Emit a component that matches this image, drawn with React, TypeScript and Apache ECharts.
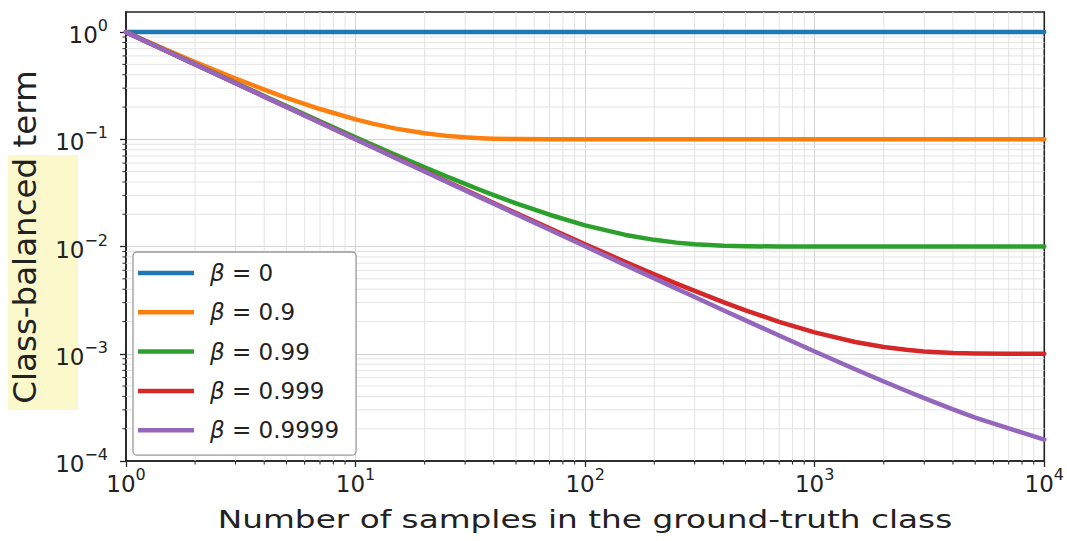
import React, { useEffect, useRef } from 'react';
import * as echarts from 'echarts';

// Number of samples (x, log scale)
const nSamples = [1, 1.5, 2, 3, 4, 5, 7, 10, 12, 15, 20, 25, 30, 35, 40, 50, 70, 100, 150, 200, 250, 300, 400, 500, 700, 1000, 1500, 2000, 2500, 3000, 4000, 5000, 7000, 10000];

// Class-balanced term
const beta0 = [1, 1, 1, 1, 1, 1, 1, 1, 1, 1, 1, 1, 1, 1, 1, 1, 1, 1, 1, 1, 1, 1, 1, 1, 1, 1, 1, 1, 1, 1, 1, 1, 1, 1];
const beta09 = [1, 0.684, 0.526, 0.369, 0.2908, 0.244, 0.1917, 0.1535, 0.1394, 0.1259, 0.1138, 0.1077, 0.1044, 0.1026, 0.1015, 0.1005, 0.1001, 0.1, 0.1, 0.1, 0.1, 0.1, 0.1, 0.1, 0.1, 0.1, 0.1, 0.1, 0.1, 0.1, 0.1, 0.1, 0.1, 0.1];
const beta099 = [1, 0.6684, 0.5025, 0.3367, 0.2538, 0.204, 0.1472, 0.1046, 0.08802, 0.07146, 0.05492, 0.04501, 0.03842, 0.0337, 0.03012, 0.02532, 0.0198, 0.01577, 0.01284, 0.01155, 0.01088, 0.01052, 0.01018, 0.01007, 0.01001, 0.01, 0.01, 0.01, 0.01, 0.01, 0.01, 0.01, 0.01, 0.01];
const beta0999 = [1, 0.6668, 0.5003, 0.3337, 0.2504, 0.2004, 0.1433, 0.1005, 0.0838, 0.06714, 0.05048, 0.04048, 0.03382, 0.02906, 0.02549, 0.02049, 0.01478, 0.0105, 0.007176, 0.005512, 0.004518, 0.003858, 0.003032, 0.002541, 0.001986, 0.001582, 0.001287, 0.001156, 0.001089, 0.001052, 0.001019, 0.001007, 0.001001, 0.001];
const beta09999 = [1, 0.6667, 0.5, 0.3334, 0.25, 0.2, 0.1429, 0.1, 0.08338, 0.06671, 0.05005, 0.04005, 0.03335, 0.02862, 0.02505, 0.02005, 0.01432, 0.01005, 0.006716, 0.00505, 0.00405, 0.003383, 0.00255, 0.00205, 0.001479, 0.001051, 0.0007179, 0.0005508, 0.0004522, 0.0003859, 0.0003033, 0.0002541, 0.0002014, 0.0001582];

const seriesNames = ['β = 0', 'β = 0.9', 'β = 0.99', 'β = 0.999', 'β = 0.9999'];
const seriesValues = [beta0, beta09, beta099, beta0999, beta09999];
const seriesColors = ['#1f77b4', '#ff7f0e', '#2ca02c', '#d62728', '#9467bd'];

// Tick values
const xMajorTicks = [1, 10, 100, 1000, 10000];
const yMajorTicks = [0.0001, 0.001, 0.01, 0.1, 1];
const xMinorTicks = [2, 3, 4, 5, 6, 7, 8, 9, 20, 30, 40, 50, 60, 70, 80, 90, 200, 300, 400, 500, 600, 700, 800, 900, 2000, 3000, 4000, 5000, 6000, 7000, 8000, 9000];
const yMinorTicks = [0.0002, 0.0003, 0.0004, 0.0005, 0.0006, 0.0007, 0.0008, 0.0009, 0.002, 0.003, 0.004, 0.005, 0.006, 0.007, 0.008, 0.009, 0.02, 0.03, 0.04, 0.05, 0.06, 0.07, 0.08, 0.09, 0.2, 0.3, 0.4, 0.5, 0.6, 0.7, 0.8, 0.9];

const xTitle = 'Number of samples in the ground-truth class';
const yTitle = 'Class-balanced term';

const FONT = '"DejaVu Sans", sans-serif';
const DARK = '#222222';
const GRID_MAJOR = '#d4d4d4';
const GRID_MINOR = '#e3e3e3';

function powLabel(v: number): string {
  const l = Math.log10(v);
  const e = Math.round(l);
  if (Math.abs(l - e) > 1e-6) return '';
  const exp = e < 0 ? '\u2212' + -e : String(e);
  return '{b|10}{s|' + exp + '}';
}

const labelRich = {
  b: { fontSize: 23, fontFamily: FONT, color: DARK, lineHeight: 29, verticalAlign: 'bottom' },
  s: { fontSize: 16, fontFamily: FONT, color: DARK, lineHeight: 16, verticalAlign: 'top' },
};

export default function App() {
  const ref = useRef<HTMLDivElement>(null);

  useEffect(() => {
    if (!ref.current) return;
    const chart = echarts.init(ref.current, null, { renderer: 'svg' });

    const lineSeries = seriesNames.map((name, i) => ({
      name,
      type: 'line',
      data: nSamples.map((n, j) => [n, seriesValues[i][j]]),
      showSymbol: false,
      symbol: 'none',
      smooth: false,
      color: seriesColors[i],
      lineStyle: { width: 4.5, color: seriesColors[i], join: 'round', cap: 'round' },
      z: 3,
      silent: true,
    }));

    const xMinorSeries = {
      type: 'custom',
      name: 'xMinor',
      silent: true,
      z: 1,
      clip: false,
      data: xMinorTicks.map((v) => [v, 1]),
      renderItem: (params: any, api: any) => {
        const cs = params.coordSys;
        const px = api.coord([api.value(0), 1])[0];
        return {
          type: 'group',
          children: [
            { type: 'line', shape: { x1: px, y1: cs.y, x2: px, y2: cs.y + cs.height }, style: { stroke: GRID_MINOR, lineWidth: 1 } },
            { type: 'line', shape: { x1: px, y1: cs.y + cs.height, x2: px, y2: cs.y + cs.height + 3.5 }, style: { stroke: DARK, lineWidth: 1 } },
          ],
        };
      },
    };

    const yMinorSeries = {
      type: 'custom',
      name: 'yMinor',
      silent: true,
      z: 1,
      clip: false,
      data: yMinorTicks.map((v) => [1, v]),
      renderItem: (params: any, api: any) => {
        const cs = params.coordSys;
        const py = api.coord([1, api.value(1)])[1];
        return {
          type: 'group',
          children: [
            { type: 'line', shape: { x1: cs.x, y1: py, x2: cs.x + cs.width, y2: py }, style: { stroke: GRID_MINOR, lineWidth: 1 } },
            { type: 'line', shape: { x1: cs.x - 3.5, y1: py, x2: cs.x, y2: py }, style: { stroke: DARK, lineWidth: 1 } },
          ],
        };
      },
    };

    chart.setOption({
      animation: false,
      backgroundColor: '#ffffff',
      grid: {
        left: 126,
        right: 22,
        top: 12,
        bottom: 80,
        show: true,
        borderColor: DARK,
        borderWidth: 1.6,
        backgroundColor: 'transparent',
      },
      xAxis: {
        type: 'log',
        logBase: 10,
        min: 1,
        max: 10000,
        axisLine: { show: true, lineStyle: { color: DARK, width: 1.6 } },
        axisTick: { show: true, length: 6, lineStyle: { color: DARK, width: 1.3 }, customValues: xMajorTicks },
        axisLabel: { margin: 5, formatter: powLabel, rich: labelRich, customValues: xMajorTicks },
        splitLine: { show: true, showMinLine: false, showMaxLine: false, lineStyle: { color: GRID_MAJOR, width: 1 } },
      },
      yAxis: {
        type: 'log',
        logBase: 10,
        min: 0.0001,
        max: 1.54,
        axisLine: { show: true, lineStyle: { color: DARK, width: 1.6 } },
        axisTick: { show: true, length: 6, lineStyle: { color: DARK, width: 1.3 }, customValues: yMajorTicks },
        axisLabel: { margin: 18, formatter: powLabel, rich: labelRich, customValues: yMajorTicks },
        splitLine: { show: true, showMinLine: false, showMaxLine: false, lineStyle: { color: GRID_MAJOR, width: 1 } },
      },
      legend: {
        data: seriesNames,
        orient: 'vertical',
        left: 133,
        top: 252,
        padding: [9, 17, 13, 5],
        itemGap: 15.3,
        itemWidth: 56,
        itemHeight: 4.5,
        icon: 'rect',
        backgroundColor: 'rgba(255,255,255,0.95)',
        borderColor: '#9a9a9a',
        borderWidth: 1.3,
        borderRadius: 4,
        selectedMode: false,
        formatter: (name: string) => '{i|β}' + name.slice(1),
        textStyle: {
          fontSize: 23,
          fontFamily: FONT,
          color: DARK,
          lineHeight: 24,
          padding: [0, 0, 0, 11],
          rich: {
            i: { fontSize: 23, fontFamily: FONT, fontStyle: 'italic', color: DARK, lineHeight: 24 },
          },
        },
      },
      graphic: [
        {
          type: 'rect',
          z: -10,
          shape: { x: 8, y: 155, width: 70, height: 255 },
          style: { fill: '#fbf8cc' },
        },
        {
          type: 'text',
          z: 100,
          x: 25,
          y: 237,
          rotation: Math.PI / 2,
          style: {
            text: yTitle,
            fontSize: 32.5,
            fontFamily: FONT,
            fill: DARK,
            align: 'center',
            verticalAlign: 'middle',
            textAlign: 'center',
            textVerticalAlign: 'middle',
          },
        },
        {
          type: 'text',
          z: 100,
          x: 585,
          y: 520,
          scaleX: 1.336,
          style: {
            text: xTitle,
            fontSize: 24.5,
            fontFamily: FONT,
            fill: DARK,
            align: 'center',
            verticalAlign: 'middle',
            textAlign: 'center',
            textVerticalAlign: 'middle',
          },
        },
      ],
      series: [xMinorSeries, yMinorSeries, ...lineSeries],
    });

    return () => {
      chart.dispose();
    };
  }, []);

  return (
    <div
      ref={ref}
      style={{ position: 'absolute', left: 0, top: 0, width: 1067, height: 541 }}
    />
  );
}
